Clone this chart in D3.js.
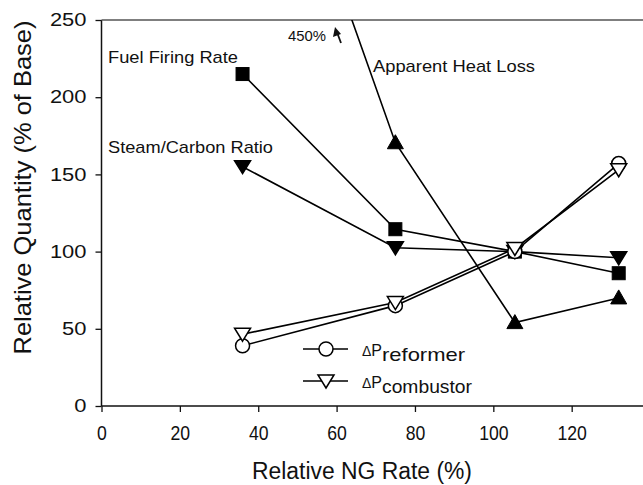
<!DOCTYPE html>
<html>
<head>
<meta charset="utf-8">
<script src="https://cdn.jsdelivr.net/npm/d3@7"></script>
<style>
  body { margin: 0; background: #fff; }
  svg { display: block; font-family: "Liberation Sans", Arial, sans-serif; }
</style>
</head>
<body>
<div id="chart"></div>
<script>
// NG rate (%) for each case
const ngRate = [36, 75, 105.5, 132];

// relative quantities (% of base)
const fuelFiring = [215, 114.5, 100, 86];
const steamCarbon = [155, 102.5, 100, 96];
const heatLoss = [450, 170.5, 54, 70];
const dpReformer = [39, 65, 100, 157];
const dpCombustor = [46.5, 67, 102, 153];

const xTicks = [0, 20, 40, 60, 80, 100, 120];
const yTicks = [0, 50, 100, 150, 200, 250];

const width = 643, height = 485;
const margin = {top: 20, right: 0, bottom: 79, left: 101.5};

const x = d3.scaleLinear().domain([0, 138.2]).range([margin.left, width - margin.right]);
const y = d3.scaleLinear().domain([0, 250]).range([height - margin.bottom, margin.top]);

const svg = d3.select("#chart").append("svg")
    .attr("width", width)
    .attr("height", height);

// clip so the off-scale 450% point gets cut at the frame top
svg.append("clipPath").attr("id", "plot")
  .append("rect")
    .attr("x", margin.left).attr("y", margin.top)
    .attr("width", width - margin.left).attr("height", height - margin.bottom - margin.top);

// axes
const xAxis = svg.append("g")
    .attr("transform", `translate(0,${y(0)})`)
    .call(d3.axisBottom(x).tickValues(xTicks).tickSize(6).tickPadding(13.5));
const yAxis = svg.append("g")
    .attr("transform", `translate(${x(0)},0)`)
    .call(d3.axisLeft(y).tickValues(yTicks).tickSize(6).tickPadding(9));

[xAxis, yAxis].forEach(a => {
  a.select(".domain").remove();
  a.selectAll("line").attr("stroke", "#111").attr("stroke-width", 1.3);
  a.selectAll("text").attr("fill", "#111")
    .attr("font-family", "Liberation Sans, Arial, sans-serif");
});
// tick labels in the picture are drawn a bit stretched
xAxis.selectAll("text").attr("font-size", 20)
    .attr("textLength", d => String(d).length * 9.8).attr("lengthAdjust", "spacingAndGlyphs");
yAxis.selectAll("text").attr("font-size", 18)
    .attr("textLength", d => String(d).length * 12.2).attr("lengthAdjust", "spacingAndGlyphs");

// frame lines: left, bottom, top
svg.append("line").attr("x1", x(0)).attr("x2", x(0)).attr("y1", y(0)).attr("y2", y(250))
    .attr("stroke", "#111").attr("stroke-width", 1.5);
svg.append("line").attr("x1", x(0)).attr("x2", width).attr("y1", y(0)).attr("y2", y(0))
    .attr("stroke", "#111").attr("stroke-width", 1.5);
svg.append("line").attr("x1", x(0)).attr("x2", width).attr("y1", y(250)).attr("y2", y(250))
    .attr("stroke", "#555").attr("stroke-width", 1.5);

// axis titles
svg.append("text")
    .attr("x", 362).attr("y", 479)
    .attr("text-anchor", "middle").attr("font-size", 23).attr("fill", "#111")
    .attr("textLength", 220).attr("lengthAdjust", "spacingAndGlyphs")
    .text("Relative NG Rate (%)");
svg.append("text")
    .attr("transform", "translate(31,187.5) rotate(-90)")
    .attr("text-anchor", "middle").attr("font-size", 24).attr("fill", "#111")
    .attr("textLength", 334).attr("lengthAdjust", "spacingAndGlyphs")
    .text("Relative Quantity (% of Base)");

const line = d3.line().x(d => x(d[0])).y(d => y(d[1]));
const plot = svg.append("g").attr("clip-path", "url(#plot)");

const series = [
  {vals: heatLoss, shape: "triUp", fill: "#000"},
  {vals: fuelFiring, shape: "square", fill: "#000"},
  {vals: steamCarbon, shape: "triDown", fill: "#000"},
  {vals: dpReformer, shape: "circle", fill: "#fff"},
  {vals: dpCombustor, shape: "triDown", fill: "#fff"}
];

function marker(g, shape, fill) {
  if (shape === "circle") {
    g.append("circle").attr("r", 7).attr("fill", fill).attr("stroke", "#000").attr("stroke-width", 1.5);
  } else if (shape === "square") {
    g.append("rect").attr("x", -6.5).attr("y", -6.5).attr("width", 13).attr("height", 13)
      .attr("fill", fill).attr("stroke", "#000").attr("stroke-width", 1);
  } else if (shape === "triUp") {
    g.append("path").attr("d", "M0,-8L8,6L-8,6Z").attr("fill", fill).attr("stroke", "#000").attr("stroke-width", 1);
  } else {
    g.append("path").attr("d", "M0,7L8,-6L-8,-6Z").attr("fill", fill).attr("stroke", "#000").attr("stroke-width", 1.5);
  }
}

series.forEach(s => {
  const pts = ngRate.map((r, i) => [r, s.vals[i]]);
  plot.append("path").datum(pts).attr("d", line)
      .attr("fill", "none").attr("stroke", "#000").attr("stroke-width", 1.6);
});
series.forEach(s => {
  ngRate.forEach((r, i) => {
    if (s.vals[i] > 250) return;
    const g = svg.append("g").attr("transform", `translate(${x(r)},${y(s.vals[i])})`);
    marker(g, s.shape, s.fill);
  });
});

// annotations
const notes = [
  {text: "Fuel Firing Rate", x: 108, y: 63, w: 130},
  {text: "Steam/Carbon Ratio", x: 108, y: 153, w: 165},
  {text: "Apparent Heat Loss", x: 373, y: 72, w: 162}
];
svg.selectAll(".note").data(notes).join("text")
    .attr("class", "note")
    .attr("x", d => d.x).attr("y", d => d.y)
    .attr("font-size", 17).attr("fill", "#111")
    .attr("textLength", d => d.w).attr("lengthAdjust", "spacingAndGlyphs")
    .text(d => d.text);

svg.append("text").attr("x", 288).attr("y", 40.5).attr("font-size", 14).attr("fill", "#111")
    .attr("textLength", 38).attr("lengthAdjust", "spacingAndGlyphs").text("450%");
// small arrow pointing to off-scale value
svg.append("line").attr("x1", 341).attr("y1", 43).attr("x2", 336.5).attr("y2", 31)
    .attr("stroke", "#111").attr("stroke-width", 1.8);
svg.append("path").attr("d", "M335,27L333,37L341,34Z").attr("fill", "#111");

// legend
const legend = [
  {name: "reformer", shape: "circle", y: 349, w: 83},
  {name: "combustor", shape: "triDown", y: 381, w: 90}
];
legend.forEach(l => {
  svg.append("line").attr("x1", 303).attr("x2", 348).attr("y1", l.y).attr("y2", l.y)
      .attr("stroke", "#000").attr("stroke-width", 1.6);
  const g = svg.append("g").attr("transform", `translate(326,${l.y})`);
  marker(g, l.shape, "#fff");
  const t = svg.append("text").attr("x", 362).attr("y", l.y + 6.5).attr("fill", "#111");
  t.append("tspan").attr("font-size", 14).text("\u0394");
  t.append("tspan").attr("font-size", 16).text("P");
  svg.append("text").attr("x", 382).attr("y", l.y + 12).attr("fill", "#111")
      .attr("font-size", 19).attr("textLength", l.w).attr("lengthAdjust", "spacingAndGlyphs")
      .text(l.name);
});
</script>
</body>
</html>
